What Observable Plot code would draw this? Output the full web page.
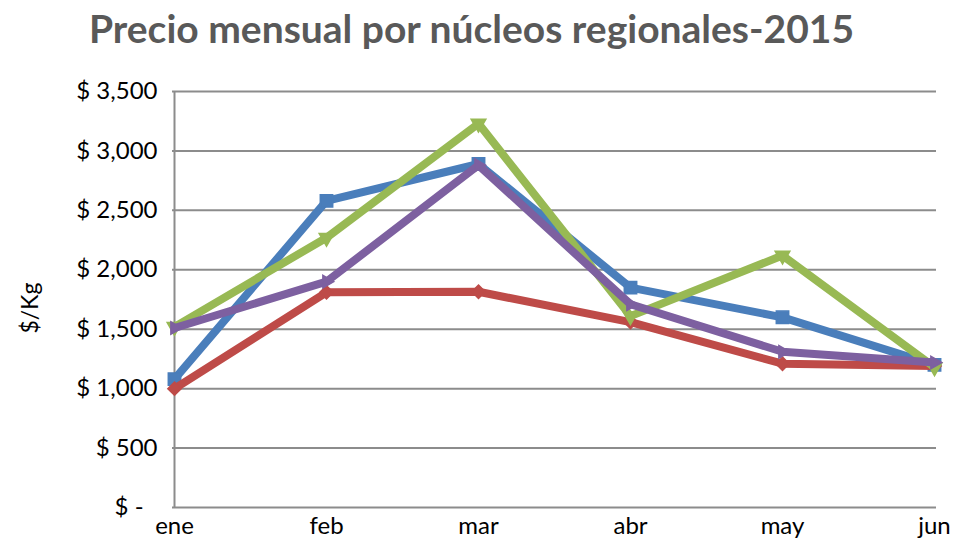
<!DOCTYPE html>
<html>
<head>
<meta charset="utf-8">
<script src="https://cdn.jsdelivr.net/npm/d3@7"></script>
<script src="https://cdn.jsdelivr.net/npm/@observablehq/plot@0.6"></script>
<style>
  body { margin: 0; background: #fff; }
  #title { width: 943px; height: 58px; line-height: 56px; text-align: center; overflow: visible;
           font-family: Lato, sans-serif; font-weight: bold; font-size: 39px; color: #595959; white-space: nowrap; }
</style>
</head>
<body>
<div id="title">Precio mensual por núcleos regionales-2015</div>
<div id="chart"></div>
<script>
const months = ["ene", "feb", "mar", "abr", "may", "jun"];
const serieAzul = [1080, 2580, 2890, 1850, 1600, 1200];
const serieRoja = [1000, 1810, 1815, 1560, 1210, 1190];
const serieVerde = [1520, 2270, 3230, 1610, 2120, 1180];
const serieMorada = [1510, 1900, 2880, 1710, 1310, 1220];
const yTicks = [0, 500, 1000, 1500, 2000, 2500, 3000, 3500];

const series = [
  {name: "azul", values: serieAzul, color: "#4A7EBB", symbol: "square", r: 7, rotate: 0},
  {name: "roja", values: serieRoja, color: "#BE4B48", symbol: "diamond2", r: 6, rotate: 0},
  {name: "verde", values: serieVerde, color: "#98B954", symbol: "triangle2", r: 7, rotate: 180},
  {name: "morada", values: serieMorada, color: "#7D60A0", symbol: "triangle2", r: 6, rotate: 90}
];

const fmt = d => d === 0 ? "$ -\u2007" : "$ " + d3.format(",")(d);
const grid = "#8C8C8C";

const marks = [
  Plot.ruleY(yTicks, {stroke: grid, strokeWidth: 2}),
  Plot.ruleX(["ene"], {stroke: grid, strokeWidth: 2}),
  Plot.axisY({ticks: yTicks, tickSize: 0, tickPadding: 15, tickFormat: fmt, label: null, fontSize: 24}),
  Plot.axisX({tickSize: 0, tickPadding: 9, label: null, fontSize: 24}),
  Plot.text(["$/Kg"], {frameAnchor: "left", dx: -142, dy: 34, rotate: -90, fontSize: 23, fill: "black"})
];
for (const s of series) {
  const data = months.map((m, i) => ({m, v: s.values[i]}));
  marks.push(Plot.line(data, {x: "m", y: "v", stroke: s.color, strokeWidth: 8, strokeLinejoin: "miter", strokeLinecap: "butt"}));
  marks.push(Plot.dot(data, {x: "m", y: "v", fill: s.color, stroke: s.color, symbol: s.symbol, r: s.r, rotate: s.rotate}));
}

const chart = Plot.plot({
  width: 955,
  height: 481,
  marginTop: 33,
  marginBottom: 32,
  marginLeft: 172,
  marginRight: 19,
  style: {fontFamily: "Lato, sans-serif", fontSize: "24px", color: "black", background: "white"},
  x: {type: "point", domain: months, padding: 0},
  y: {domain: [0, 3500]},
  marks
});
document.getElementById("chart").appendChild(chart);
</script>
</body>
</html>
